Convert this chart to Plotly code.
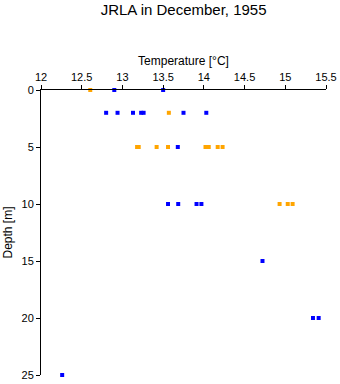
import plotly.graph_objects as go

# Blue series
blue_temp = [12.90, 13.50, 12.80, 12.94, 13.13, 13.23, 13.26, 13.75, 14.03, 13.68,
             13.56, 13.685, 13.91, 13.97, 14.72, 15.34, 15.41, 12.26]
blue_depth = [0, 0, 2, 2, 2, 2, 2, 2, 2, 5,
              10, 10, 10, 10, 15, 20, 20, 25]

# Orange series
orange_temp = [12.605, 13.57, 13.18, 13.20, 13.42, 13.56, 14.02, 14.06, 14.17, 14.23,
               14.93, 15.03, 15.09]
orange_depth = [0, 2, 5, 5, 5, 5, 5, 5, 5, 5,
                10, 10, 10]

x_ticks = [12, 12.5, 13, 13.5, 14, 14.5, 15, 15.5]
x_tick_labels = ["12", "12.5", "13", "13.5", "14", "14.5", "15", "15.5"]
y_ticks = [0, 5, 10, 15, 20, 25]

FONT = "Liberation Sans, Arial, sans-serif"

fig = go.Figure()
fig.add_trace(go.Scatter(x=orange_temp, y=orange_depth, mode="markers",
                         marker=dict(symbol="square", size=4, color="#FFA500",
                                     line=dict(width=0)),
                         cliponaxis=False, showlegend=False))
fig.add_trace(go.Scatter(x=blue_temp, y=blue_depth, mode="markers",
                         marker=dict(symbol="square", size=4, color="#0000FF",
                                     line=dict(width=0)),
                         cliponaxis=False, showlegend=False))

fig.update_layout(
    width=340, height=384,
    margin=dict(l=41, r=14, t=90, b=9),
    paper_bgcolor="white", plot_bgcolor="white",
    font=dict(family=FONT, size=11, color="black"),
    title=dict(text="JRLA in December, 1955", x=0.54, xanchor="center",
               y=1 - 10 / 384, yanchor="middle",
               font=dict(family=FONT, size=15, color="black")),
    xaxis=dict(side="top", range=[12, 15.5], tickvals=x_ticks, ticktext=x_tick_labels,
               showline=True, linecolor="black", linewidth=1,
               ticks="outside", ticklen=4, tickcolor="black",
               showgrid=False, zeroline=False, automargin=False,
               title=dict(text="Temperature [°C]", standoff=2,
                          font=dict(family=FONT, size=12))),
    yaxis=dict(range=[25, 0], tickvals=y_ticks,
               showline=True, linecolor="black", linewidth=1,
               ticks="outside", ticklen=4, tickcolor="black",
               showgrid=False, zeroline=False, automargin=False,
               title=dict(text="Depth [m]", standoff=6,
                          font=dict(family=FONT, size=12))),
)

fig.write_html("out.html")
